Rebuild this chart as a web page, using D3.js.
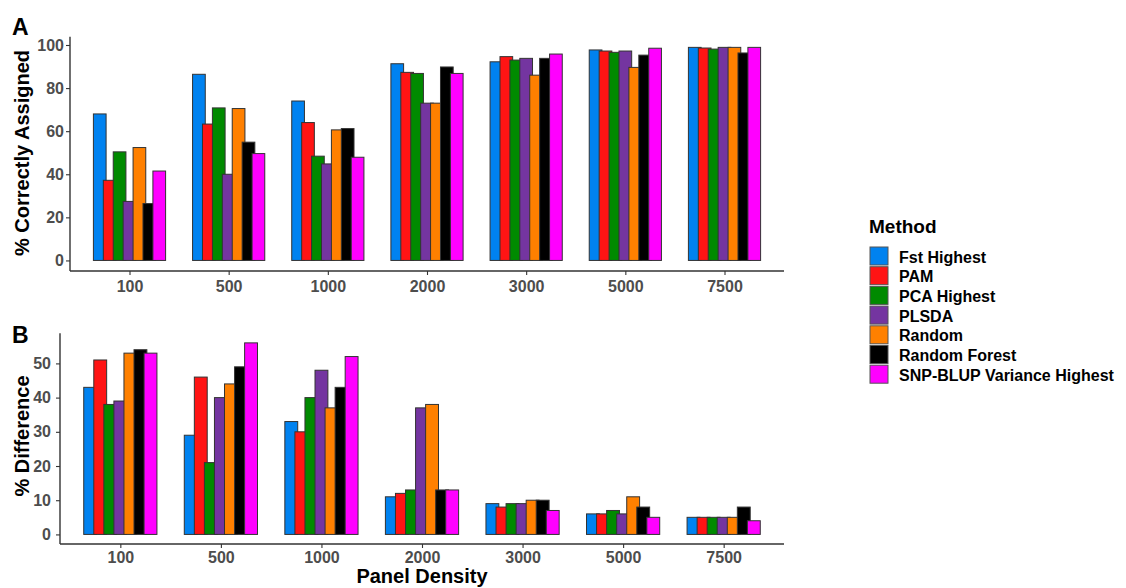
<!DOCTYPE html>
<html>
<head>
<meta charset="utf-8">
<script src="https://cdn.jsdelivr.net/npm/d3@7"></script>
<style>
  body { margin: 0; background: #fff; }
  svg text { font-family: "Liberation Sans", Arial, sans-serif; font-weight: bold; }
</style>
</head>
<body>
<svg id="chart" width="1126" height="588"></svg>
<script>
// data
const densities = ["100", "500", "1000", "2000", "3000", "5000", "7500"];
const methods = ["Fst Highest", "PAM", "PCA Highest", "PLSDA", "Random", "Random Forest", "SNP-BLUP Variance Highest"];
const colors = ["#0082F0", "#FF1414", "#008A00", "#7435A0", "#FF8000", "#000000", "#FF00FF"];

// % correctly assigned, one array per method (same order as densities)
const assigned = {
  "Fst Highest":               [68.0, 86.4, 74.0, 91.3, 92.2, 97.7, 98.9],
  "PAM":                       [37.2, 63.3, 64.0, 87.3, 94.6, 97.2, 98.6],
  "PCA Highest":               [50.4, 70.8, 48.4, 86.8, 93.0, 96.6, 98.1],
  "PLSDA":                     [27.4, 40.0, 44.8, 73.0, 93.8, 97.2, 98.9],
  "Random":                    [52.4, 70.5, 60.6, 73.0, 86.0, 89.6, 98.9],
  "Random Forest":             [26.4, 54.9, 61.2, 89.8, 93.8, 95.3, 96.3],
  "SNP-BLUP Variance Highest": [41.5, 49.6, 47.9, 86.8, 95.8, 98.5, 98.9]
};

// % difference
const difference = {
  "Fst Highest":               [43, 29, 33, 11, 9, 6, 5],
  "PAM":                       [51, 46, 30, 12, 8, 6, 5],
  "PCA Highest":               [38, 21, 40, 13, 9, 7, 5],
  "PLSDA":                     [39, 40, 48, 37, 9, 6, 5],
  "Random":                    [53, 44, 37, 38, 10, 11, 5],
  "Random Forest":             [54, 49, 43, 13, 10, 8, 8],
  "SNP-BLUP Variance Highest": [53, 56, 52, 13, 7, 5, 4]
};

const ticksA = [0, 20, 40, 60, 80, 100];
const ticksB = [0, 10, 20, 30, 40, 50];

const svg = d3.select("#chart");
const axisColor = "#333333";
const tickColor = "#4D4D4D";

function flatten(obj) {
  let rows = [];
  methods.forEach((m, mi) => {
    obj[m].forEach((v, di) => rows.push({ method: m, mi: mi, density: densities[di], value: v }));
  });
  return rows;
}

function drawPanel(opt) {
  const x = d3.scalePoint().domain(densities).range([opt.left, opt.right]).padding(0.6);
  const y = d3.scaleLinear().domain(opt.domain).range([opt.bottom, opt.top]);
  const step = x.step();
  const barW = 0.128 * step;
  const dodge = 0.1 * step;

  const g = svg.append("g");
  g.selectAll("rect.bar")
    .data(flatten(opt.data))
    .join("rect")
    .attr("class", "bar")
    .attr("x", d => x(d.density) + (d.mi - 3) * dodge - barW / 2)
    .attr("y", d => y(d.value))
    .attr("width", barW)
    .attr("height", d => y(0) - y(d.value))
    .attr("fill", d => colors[d.mi])
    .attr("stroke", "#333")
    .attr("stroke-width", 1);

  // y axis
  const ya = g.append("g")
    .attr("transform", `translate(${opt.left},0)`)
    .call(d3.axisLeft(y).tickValues(opt.ticks).tickSize(4).tickPadding(opt.yPad));
  // x axis
  const xa = g.append("g")
    .attr("transform", `translate(0,${opt.bottom})`)
    .call(d3.axisBottom(x).tickSize(4).tickPadding(opt.xPad));

  [ya, xa].forEach(a => {
    a.select(".domain").attr("stroke", axisColor).attr("stroke-width", 1.4);
    a.selectAll(".tick line").attr("stroke", axisColor).attr("stroke-width", 1.1);
    a.selectAll(".tick text").attr("fill", tickColor).style("font-size", "16px")
      .style("font-family", "'Liberation Sans', Arial, sans-serif").style("font-weight", "bold");
  });
  // match ggplot: domain without end caps
  ya.select(".domain").attr("d", `M0,${opt.top}V${opt.bottom}`);
  xa.select(".domain").attr("d", `M${opt.left},0H${opt.right}`);

  // y title
  svg.append("text")
    .attr("transform", `translate(29,${opt.titleY}) rotate(-90)`)
    .attr("text-anchor", "middle")
    .style("font-size", "20px")
    .text(opt.title);

  // panel letter
  svg.append("text")
    .attr("x", 12).attr("y", opt.letterY)
    .style("font-size", "23px")
    .text(opt.letter);
}

drawPanel({
  data: assigned, left: 70, right: 784, top: 36.7, bottom: 271,
  domain: [-4.9, 103.85], ticks: ticksA, yPad: 2, xPad: 6,
  title: "% Correctly Assigned", titleY: 153, letter: "A", letterY: 35
});

drawPanel({
  data: difference, left: 60, right: 784, top: 333.3, bottom: 544,
  domain: [-2.8, 58.8], ticks: ticksB, yPad: 5, xPad: 4,
  title: "% Difference", titleY: 436, letter: "B", letterY: 343
});

// x title
svg.append("text")
  .attr("x", 422).attr("y", 583)
  .attr("text-anchor", "middle")
  .style("font-size", "20px")
  .text("Panel Density");

// legend
const legend = svg.append("g").attr("transform", "translate(869,0)");
legend.append("text").attr("x", 0).attr("y", 233).style("font-size", "19px").text("Method");
const items = legend.selectAll("g.item")
  .data(methods)
  .join("g")
  .attr("class", "item")
  .attr("transform", (d, i) => `translate(0,${247 + i * 19.7})`);
items.append("rect")
  .attr("x", 1).attr("y", 0).attr("width", 18).attr("height", 18)
  .attr("fill", (d, i) => colors[i])
  .attr("stroke", "#555").attr("stroke-width", 1);
items.append("text")
  .attr("x", 30).attr("y", 15.5)
  .style("font-size", "16px")
  .text(d => d);
</script>
</body>
</html>
